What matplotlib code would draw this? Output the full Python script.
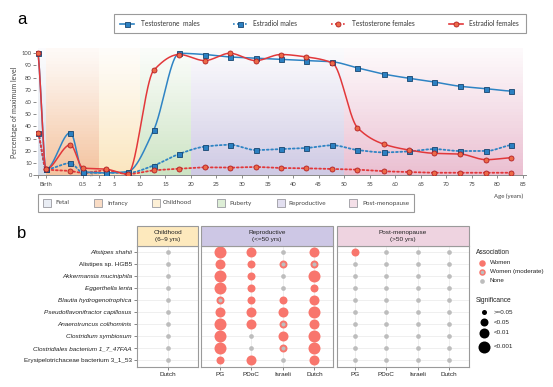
import numpy as np
import matplotlib
matplotlib.use('Agg')
import matplotlib.pyplot as plt
from matplotlib.patches import Rectangle

# ---------------- DATA ----------------
# Panel a: hormone levels (% of maximum) at each age point (years; -1 = fetal)
ages = [-1, 0, 0.33, 0.5, 3.4, 7.6, 12.7, 17.7, 22.7, 27.6, 32.7, 37.6, 42.6,
        47.7, 52.6, 57.7, 62.7, 67.6, 72.6, 77.8, 82.7]
testosterone_males = [100, 5, 35, 3, 2, 3, 37, 100, 99, 97, 96, 95, 94, 93,
                      88, 83, 79.5, 76.5, 73, 71, 69]
estradiol_males = [35, 5, 10, 2, 2, 2, 8, 17.5, 23.5, 25, 20.7, 21.5, 22.4,
                   24.6, 20.7, 18.8, 19.6, 21.5, 19.9, 19.9, 24.8]
testosterone_females = [35, 5, 3.5, 2, 4, 1, 4, 5.4, 6.5, 6.3, 6.8, 6, 5.7,
                        5.2, 4.6, 3.3, 2.7, 2.1, 2.1, 2.1, 2.1]
estradiol_females = [100, 5, 25, 6, 5, 1, 86, 99, 94, 100, 94, 99, 97, 92,
                     39, 25.6, 20.7, 18, 17.5, 12.8, 14.4]

phase_names = ['Fetal', 'Infancy', 'Childhood', 'Puberty', 'Reproductive', 'Post-menopause']
phase_bounds = [(-1, 0), (0, 2), (2, 10), (10, 20), (20, 50), (50, 85)]

x_tick_ages = [-1, 0, 0.5, 2, 5, 10, 15, 20, 25, 30, 35, 40, 45, 50, 55, 60, 65, 70, 75, 80, 85]
x_tick_labels = ['', 'Birth', '0.5', '2', '5', '10', '15', '20', '25', '30', '35', '40',
                 '45', '50', '55', '60', '65', '70', '75', '80', '85']
y_ticks = [0, 10, 20, 30, 40, 50, 60, 70, 80, 90, 100]

# Panel b: associations
species = ['Alistipes shahii', 'Alistipes sp. HGB5', 'Akkermansia muciniphila',
           'Eggerthella lenta', 'Blautia hydrogenotrophica', 'Pseudoflavonifractor capillosus',
           'Anaerotruncus colihominis', 'Clostridium symbiosum',
           'Clostridiales bacterium 1_7_47FAA', 'Erysipelotrichaceae bacterium 3_1_53']
species_italic = [True, False, True, True, True, True, True, True, True, False]

childhood_cohorts = ['Dutch']
childhood_assoc = [['N'] for _ in range(10)]
childhood_sig = [[0] for _ in range(10)]

repro_cohorts = ['PG', 'PDoC', 'Israeli', 'Dutch']
repro_assoc = [['W', 'W', 'N', 'W'],
               ['W', 'W', 'M', 'M'],
               ['W', 'W', 'N', 'W'],
               ['W', 'W', 'N', 'W'],
               ['M', 'W', 'W', 'W'],
               ['W', 'W', 'W', 'W'],
               ['W', 'W', 'M', 'W'],
               ['W', 'N', 'W', 'W'],
               ['W', 'N', 'M', 'W'],
               ['W', 'W', 'N', 'W']]
repro_sig = [[3, 2, 0, 2],
             [2, 1, 1, 1],
             [3, 1, 0, 3],
             [3, 1, 0, 1],
             [1, 1, 1, 2],
             [2, 2, 2, 3],
             [3, 2, 1, 2],
             [3, 0, 2, 3],
             [3, 0, 1, 3],
             [1, 2, 0, 2]]

post_cohorts = ['PG', 'PDoC', 'Israeli', 'Dutch']
post_assoc = [['W', 'N', 'N', 'N']] + [['N', 'N', 'N', 'N'] for _ in range(9)]
post_sig = [[1, 0, 0, 0]] + [[0, 0, 0, 0] for _ in range(9)]

sig_labels = ['>=0.05', '<0.05', '<0.01', '<0.001']
assoc_labels = ['Women', 'Women (moderate)', 'None']

# ---------------- STYLE ----------------
W, H = 553, 387
fig = plt.figure(figsize=(W / 100, H / 100), dpi=100)
FA = 'Lato'
FB = 'Liberation Sans'
BLUE = '#2f84c4'
RED = '#e2383b'
BLUE_MK = dict(marker='s', ms=3.6, mfc='#2b80c2', mec='#17456f', mew=0.6)
RED_MK = dict(marker='o', ms=3.6, mfc='#ec6a48', mec='#b21f24', mew=0.6)
phase_colors = ['#d6dce8', '#f4c4a0', '#fbe6bf', '#cde4c4', '#cfcae4', '#ebc0d2']
phase_box_colors = ['#e9edf4', '#f9dcc5', '#fdf0d6', '#ddeed6', '#e2dff0', '#f4dfe8']
PT_RED = '#f8766d'
PT_GRAY = '#bdbdbd'


def px_axes(x0, y0, x1, y1, **kw):
    return fig.add_axes([x0 / W, 1 - y1 / H, (x1 - x0) / W, (y1 - y0) / H], **kw)


# overlay in pixel coordinates for annotations / legends
ov = px_axes(0, 0, W, H)
ov.set_xlim(0, W)
ov.set_ylim(H, 0)
ov.axis('off')
ov.set_zorder(5)

# ---------------- PANEL A ----------------
age_knots = np.array([-30.0, -1, 0, 0.5, 2, 85, 400])
pos_knots = np.array([38 - 29 * 8.0, 38, 46, 83, 99, 523, 523 + 315 * 5.108])


def fwd(a):
    return np.interp(a, age_knots, pos_knots)


def inv(p):
    return np.interp(p, pos_knots, age_knots)


axa = px_axes(36, 48.4, 526, 175.3)
axa.set_xscale('function', functions=(fwd, inv))
axa.set_xlim(inv(36), inv(526))
axa.set_ylim(0, 104)
axa.set_facecolor('none')

# gradient bands
nstr = 40
for (a0, a1), c in zip(phase_bounds, phase_colors):
    for k in range(nstr):
        frac = (k + 0.5) / nstr
        alpha = 0.95 * (1 - frac) ** 1.1 + 0.08
        axa.axvspan(a0, a1, ymin=k / nstr, ymax=(k + 1) / nstr, color=c,
                    alpha=min(alpha, 1), lw=0, zorder=0)


def pchip(xs_age, ys, n=40):
    p = fwd(np.asarray(xs_age, float))
    v = np.asarray(ys, float)
    h = np.diff(p)
    d = np.diff(v) / h
    m = np.zeros_like(v)
    for k in range(1, len(v) - 1):
        if d[k - 1] * d[k] > 0:
            w1 = 2 * h[k] + h[k - 1]
            w2 = h[k] + 2 * h[k - 1]
            m[k] = (w1 + w2) / (w1 / d[k - 1] + w2 / d[k])
    m[0] = d[0] * 0.5
    m[-1] = d[-1] * 0.5
    X, Y = [], []
    t = np.linspace(0, 1, n, endpoint=False)
    for i in range(len(p) - 1):
        hh = h[i]
        h00 = 2 * t ** 3 - 3 * t ** 2 + 1
        h10 = t ** 3 - 2 * t ** 2 + t
        h01 = -2 * t ** 3 + 3 * t ** 2
        h11 = t ** 3 - t ** 2
        X.append(p[i] + t * hh)
        Y.append(h00 * v[i] + h10 * hh * m[i] + h01 * v[i + 1] + h11 * hh * m[i + 1])
    X.append([p[-1]])
    Y.append([v[-1]])
    return inv(np.concatenate(X)), np.concatenate(Y)


dot = (0, (1, 1.4))
series = [
    (estradiol_males, BLUE, dot, 1.3, BLUE_MK, 2),
    (testosterone_females, RED, dot, 1.3, RED_MK, 2),
    (testosterone_males, BLUE, '-', 1.1, BLUE_MK, 3),
    (estradiol_females, RED, '-', 1.1, RED_MK, 4),
]
for vals, col, ls, lw, mk, z in series:
    sx, sy = pchip(ages, vals)
    axa.plot(sx, sy, color=col, ls=ls, lw=lw, zorder=z, solid_capstyle='round',
             dash_capstyle='round')
for vals, col, ls, lw, mk, z in series:
    axa.plot(ages, vals, ls='none', zorder=6, **mk)

axa.set_xticks(x_tick_ages)
axa.set_xticklabels(x_tick_labels)
axa.xaxis.set_minor_locator(matplotlib.ticker.NullLocator())
axa.set_yticks(y_ticks)
axa.tick_params(axis='x', length=2.5, width=0.6, color='#777', labelsize=4.2,
                labelcolor='#444', pad=2)
axa.tick_params(axis='y', length=2, width=0.6, color='#777', labelsize=4.2,
                labelcolor='#444', pad=1)
for lab in axa.get_xticklabels() + axa.get_yticklabels():
    lab.set_fontfamily(FA)
for s in ['top', 'right', 'left']:
    axa.spines[s].set_visible(False)
axa.spines['bottom'].set_color('#8a8a8a')
axa.spines['bottom'].set_linewidth(0.7)
axa.set_ylabel('Percentage of maximum level', fontsize=5, family=FA, color='#444',
               labelpad=3)
ov.text(523, 196, 'Age (years)', fontsize=4.3, family=FA, color='#444',
        ha='right', va='center')
ov.text(92.5, 173.5, '//', fontsize=4, family=FA, color='#777', ha='center',
        va='center')

# panel label a
ov.text(17, 19, 'a', fontsize=12, family=FB, ha='left', va='center')

# hormone legend
ov.add_patch(Rectangle((114, 14), 412, 19, fc='white', ec='#9a9a9a', lw=0.8))
leg_items = [('Testosterone  males', 127, 141, BLUE, '-', BLUE_MK),
             ('Estradiol males', 240, 253, BLUE, dot, BLUE_MK),
             ('Testosterone females', 338, 352, RED, dot, RED_MK),
             ('Estradiol females', 456, 469, RED, '-', RED_MK)]
for txt, cx, tx, col, ls, mk in leg_items:
    ov.plot([cx - 7, cx + 7], [23.5, 23.5], color=col, ls=ls, lw=1.2)
    ov.plot([cx], [23.5], ls='none', **mk)
    ov.text(tx, 23.5, txt, fontsize=4.8, family=FA, color='#333', va='center')

# phase legend
ov.add_patch(Rectangle((38, 194), 376, 17.7, fc='white', ec='#9a9a9a', lw=0.8))
box_x = [43, 94, 152, 217, 277, 349]
txt_x = [55, 107, 163, 229, 288, 362]
for name, bx, tx, c in zip(phase_names, box_x, txt_x, phase_box_colors):
    ov.add_patch(Rectangle((bx, 199.3), 8, 7.5, fc=c, ec='#9a9aa0', lw=0.6))
    ov.text(tx, 203, name, fontsize=4.6, family=FA, color='#444', va='center')

# ---------------- PANEL B ----------------
ov.text(17, 233, 'b', fontsize=12, family=FB, ha='left', va='center')

sig_px = [5.0, 8.0, 10.0, 12.0]
gray_px = 4.7


def s_of(px):
    return (px / 100 * 72) ** 2


facets = [
    (136.7, 198.3, childhood_cohorts, childhood_assoc, childhood_sig,
     'Childhood\n(6\u20139 yrs)', '#fde9bd', (-0.978, 0.978), True),
    (201, 333.3, repro_cohorts, repro_assoc, repro_sig,
     'Reproductive\n(<=50 yrs)', '#cdc7e5', (-0.6, 3.6), False),
    (336.7, 468.7, post_cohorts, post_assoc, post_sig,
     'Post-menopause\n(>50 yrs)', '#eed3e0', (-0.58, 3.62), False),
]
for x0, x1, cohorts, assoc, sig, header, hcol, xl, show_y in facets:
    ax = px_axes(x0, 246, x1, 367.3)
    ax.set_xlim(*xl)
    ax.set_ylim(9.6, -0.53)
    ax.set_xticks(range(len(cohorts)))
    ax.set_xticklabels(cohorts)
    ax.set_yticks(range(len(species)))
    ax.grid(True, color='#ececec', lw=0.6)
    ax.set_axisbelow(True)
    for s in ax.spines.values():
        s.set_color('#9a9a9a')
        s.set_linewidth(0.8)
    ax.tick_params(axis='both', length=2, width=0.5, color='#555',
                   labelsize=4.6, labelcolor='#222', pad=1.5)
    if show_y:
        ax.set_yticklabels(species)
        for lab, it in zip(ax.get_yticklabels(), species_italic):
            lab.set_fontstyle('italic' if it else 'normal')
            lab.set_fontfamily(FB)
    else:
        ax.set_yticklabels([])
        ax.tick_params(axis='y', length=0)
    for lab in ax.get_xticklabels():
        lab.set_fontfamily(FB)
    for i in range(len(species)):
        for j in range(len(cohorts)):
            a = assoc[i][j]
            if a == 'N':
                ax.scatter([j], [i], s=s_of(gray_px), color=PT_GRAY, lw=0, zorder=3)
            else:
                ax.scatter([j], [i], s=s_of(sig_px[sig[i][j]]), color=PT_RED, lw=0,
                           zorder=3)
                if a == 'M':
                    ax.scatter([j], [i], s=s_of(4.0), color=PT_GRAY, lw=0, zorder=4)
    # header strip
    ov.add_patch(Rectangle((x0, 226), x1 - x0, 20, fc=hcol, ec='#9a9a9a', lw=0.8))
    ov.text((x0 + x1) / 2, 236, header, fontsize=4.6, family=FB, color='#222',
            ha='center', va='center', linespacing=1.6)

# right legends
ov.text(476, 252, 'Association', fontsize=4.8, family=FB, color='#222', va='center')
leg_y = [263, 272, 281]
for lab, yy, kind in zip(assoc_labels, leg_y, ['W', 'M', 'N']):
    if kind == 'N':
        ov.scatter([482], [yy], s=s_of(gray_px), color=PT_GRAY, lw=0)
    else:
        ov.scatter([482], [yy], s=s_of(6.5), color=PT_RED, lw=0)
        if kind == 'M':
            ov.scatter([482], [yy], s=s_of(3.5), color=PT_GRAY, lw=0)
    ov.text(490, yy, lab, fontsize=4.5, family=FB, color='#222', va='center')

ov.text(476, 301, 'Significance', fontsize=4.8, family=FB, color='#222', va='center')
sig_y = [312.3, 322, 333, 347]
for lab, yy, px in zip(sig_labels, sig_y, sig_px):
    ov.scatter([484], [yy], s=s_of(px), color='black', lw=0)
    ov.text(494, yy, lab, fontsize=4.5, family=FB, color='#222', va='center')

fig.savefig('out.png', dpi=100)
